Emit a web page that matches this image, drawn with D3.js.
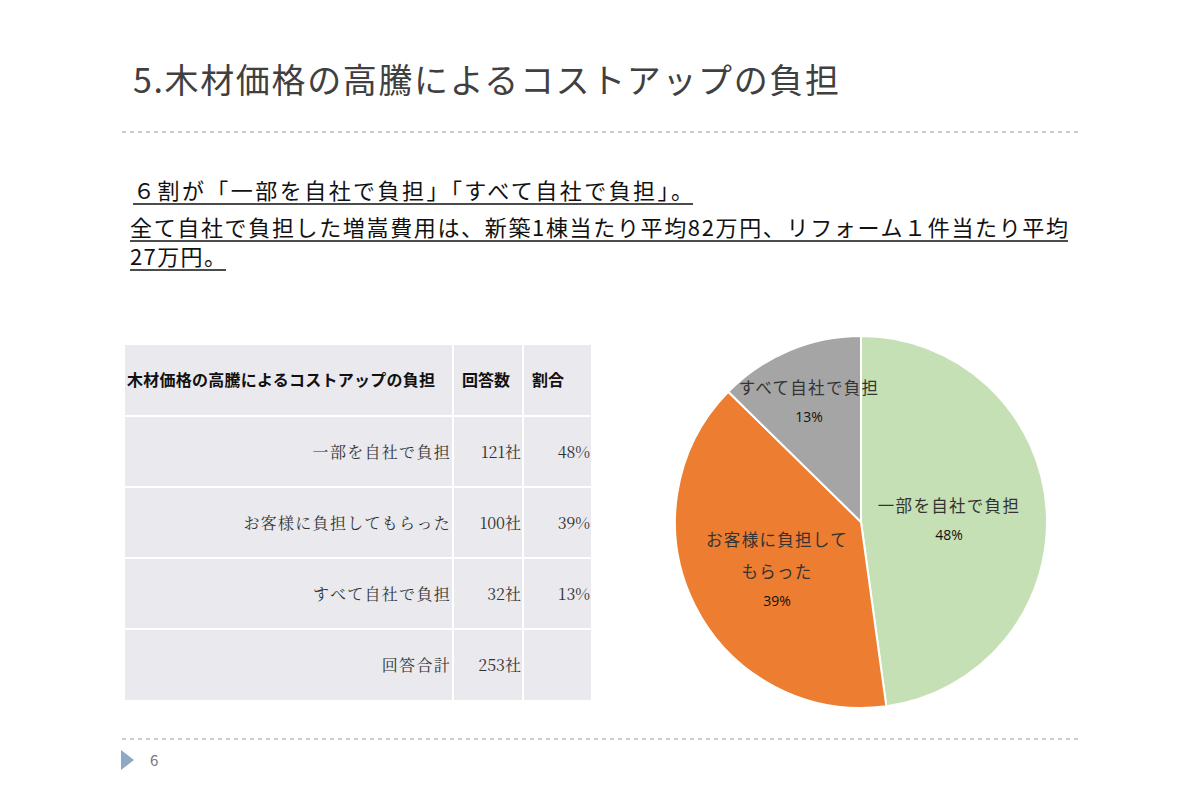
<!DOCTYPE html>
<html><head><meta charset="utf-8">
<script src="https://cdn.jsdelivr.net/npm/d3@7"></script>
<style>body{margin:0;background:#fff}svg{display:block}</style>
</head><body><svg id="c" width="1200" height="798"></svg>
<script>
const categories = ["一部を自社で負担", "お客様に負担してもらった", "すべて自社で負担"];
const counts = [121, 100, 32];
const shares = ["48%", "39%", "13%"];
const totalLabel = "回答合計";
const totalCount = 253;
const colors = ["#c5e0b4", "#ed7d31", "#a5a5a5"];

const svg = d3.select("#c");
const sans = "'Noto Sans CJK JP', sans-serif";
const serif = "'Noto Serif CJK JP','DejaVu Serif', serif";

svg.append("text").attr("x",133).attr("y",93).attr("font-family",sans).attr("font-size",34).attr("fill","#404040")
  .attr("textLength",706).attr("lengthAdjust","spacing")
  .text("5.木材価格の高騰によるコストアップの負担");
[[122,1078,132],[122,1078,739]].forEach(([a,b,y])=>svg.append("line").attr("x1",a).attr("x2",b).attr("y1",y).attr("y2",y)
  .attr("stroke","#b8bcc4").attr("stroke-width",1.5).attr("stroke-dasharray","4,4"));
svg.append("path").attr("d","M121,750 L134,760 L121,770 Z").attr("fill","#8fa9c4");
svg.append("text").attr("x",150).attr("y",766).attr("font-family",sans).attr("font-size",15).attr("fill","#777").text("6");

const sub = [["６割が「一部を自社で負担」「すべて自社で負担」。",133,199,560],
 ["全て自社で負担した増嵩費用は、新築1棟当たり平均82万円、リフォーム１件当たり平均",130,236,938],
 ["27万円。",130,265,96]];
sub.forEach(([t,x,y,w])=>{
  svg.append("text").attr("x",x).attr("y",y).attr("font-family",sans).attr("font-size",22).attr("fill","#111")
    .attr("textLength",w).attr("lengthAdjust","spacing").text(t);
  svg.append("line").attr("x1",x).attr("x2",x+w).attr("y1",y+5).attr("y2",y+5).attr("stroke","#111").attr("stroke-width",1.5);
});

// table
const cols=[125,454,524], colW=[327,68,67];
const rowsY=[345,417,488,559,630], rowH=[70,69,69,69,70];
const rows=[["木材価格の高騰によるコストアップの負担","回答数","割合"]]
  .concat(categories.map((c,i)=>[c,counts[i]+"社",shares[i]]))
  .concat([[totalLabel,totalCount+"社",""]]);
rows.forEach((r,ri)=>{
  r.forEach((t,ci)=>{
    svg.append("rect").attr("x",cols[ci]).attr("y",rowsY[ri]).attr("width",colW[ci]).attr("height",rowH[ri]).attr("fill","#e9e9ee");
    const cy=rowsY[ri]+rowH[ri]/2+6;
    if(ri===0){
      const e=svg.append("text").attr("x",ci===0?127:cols[ci]+8).attr("y",cy).attr("font-family",sans).attr("font-weight","bold")
        .attr("font-size",16).attr("fill","#111").text(t);
      if(ci===0) e.attr("textLength",308).attr("lengthAdjust","spacing");
    } else {
      svg.append("text").attr("x",cols[ci]+colW[ci]-1).attr("y",cy).attr("text-anchor","end").attr("font-family",serif)
        .attr("font-size",16).attr("fill","#333").attr("letter-spacing",ci===0?1.3:0).text(t);
    }
  });
});

// pie
const cx=861, cy=522, R=186;
const pie=d3.pie().sort(null).value(d=>d)(counts);
const arc=d3.arc().innerRadius(0).outerRadius(R);
const g=svg.append("g").attr("transform",`translate(${cx},${cy})`);
g.selectAll("path").data(pie).join("path").attr("d",arc).attr("fill",(d,i)=>colors[i]).attr("stroke","#fff").attr("stroke-width",2);
const labs=[{lines:["一部を自社で負担"],pos:[88,-10]},{lines:["お客様に負担して","もらった"],pos:[-84,24]},{lines:["すべて自社で負担"],pos:[-52,-128]}];
labs.forEach((l,i)=>{
  const t=g.append("text").attr("text-anchor","middle").attr("font-family",sans).attr("font-size",16.5).attr("letter-spacing",1.3).attr("fill","#333");
  l.lines.forEach((s,k)=>t.append("tspan").attr("x",l.pos[0]).attr("y",l.pos[1]+k*32).text(s));
  g.append("text").attr("text-anchor","middle").attr("x",l.pos[0]).attr("y",l.pos[1]+l.lines.length*32-4)
    .attr("font-family","'Open Sans',sans-serif").attr("font-size",14).attr("fill","#111").text(shares[i]);
});
</script></body></html>
